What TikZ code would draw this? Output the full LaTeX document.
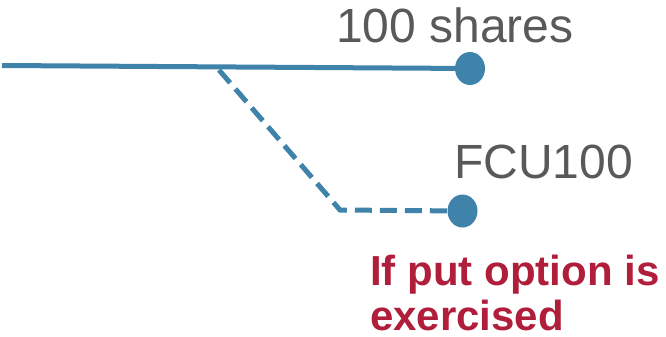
\documentclass[tikz,border=0pt]{standalone}
\usepackage{fontspec}
\setmainfont{Liberation Sans}
\usetikzlibrary{shapes.geometric}
\definecolor{lineblue}{HTML}{3F82AA}
\definecolor{txtgray}{HTML}{595959}
\definecolor{txtred}{HTML}{B01E3C}
\tikzset{
  enddot/.style={ellipse, fill=lineblue, draw=none, minimum width=30pt, minimum height=33pt, inner sep=0pt},
  solidline/.style={draw=lineblue, line width=5pt},
  dashline/.style={draw=lineblue, line width=5pt, dash pattern=on 17pt off 8pt},
  graylabel/.style={anchor=base west, inner sep=0pt, text=txtgray, font=\fontsize{48}{50}\selectfont},
  redlabel/.style={anchor=base west, inner sep=0pt, text=txtred, font=\fontsize{42}{45}\selectfont\bfseries, align=left}
}
\begin{document}
\begin{tikzpicture}[x=1pt,y=-1pt]
\useasboundingbox (0,0) rectangle (666,337);
\coordinate (start) at (2,65.5);
\coordinate (branch) at (219,70);
\coordinate (knee) at (340,210);
\node[enddot] (dotA) at (470,68.5) {};
\node[enddot] (dotB) at (462.5,211) {};
\draw[solidline] (start) -- (dotA.center);
\draw[dashline] (branch) -- (knee) -- (dotB.center);
\node[graylabel] (sharesLbl) at (336,43) {100 shares};
\node[graylabel] (fcuLbl) at (454,178) {FCU100};
\node[redlabel] (redLbl) at (370,330) {If put option is\\exercised};
\end{tikzpicture}
\end{document}
